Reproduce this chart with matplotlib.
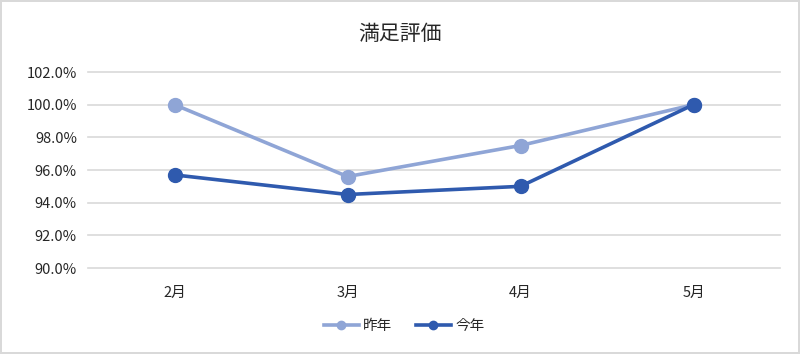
import matplotlib
matplotlib.use("Agg")
import matplotlib.pyplot as plt
from matplotlib.ticker import FuncFormatter

plt.rcParams['font.family'] = ['Noto Sans CJK JP', 'DejaVu Sans']

# data
months = ['2月', '3月', '4月', '5月']
last_year = [100.0, 95.6, 97.5, 100.0]
this_year = [95.7, 94.5, 95.0, 100.0]
y_ticks = [90, 92, 94, 96, 98, 100, 102]

fig = plt.figure(figsize=(8, 3.54), dpi=100)
fig.patch.set_edgecolor('#D9D9D9')
fig.patch.set_linewidth(1.5)

ax = fig.add_axes([0.11, 0.2429, 0.865, 0.5537])
x = range(len(months))
ax.plot(x, last_year, color='#8FA5D6', lw=2.6, marker='o', ms=10, label='昨年', zorder=3)
ax.plot(x, this_year, color='#2F5AAE', lw=2.6, marker='o', ms=10, label='今年', zorder=4)

ax.set_xlim(-0.5, len(months) - 0.5)
ax.set_ylim(90, 102)
ax.set_yticks(y_ticks)
ax.yaxis.set_major_formatter(FuncFormatter(lambda v, p: f'{v:.1f}%'))
ax.set_xticks(list(x))
ax.set_xticklabels(months)
ax.grid(axis='y', color='#D9D9D9', lw=1.2)
for g in ax.yaxis.get_gridlines():
    g.set_clip_on(False)
ax.set_axisbelow(True)
for s in ax.spines.values():
    s.set_visible(False)
ax.tick_params(length=0, labelsize=10.5, colors='#262626')
ax.tick_params(axis='x', pad=13)
ax.tick_params(axis='y', pad=8)

fig.text(0.5, 0.905, '満足評価', ha='center', va='center', fontsize=15, color='#262626')
fig.legend(loc='center', bbox_to_anchor=(0.505, 0.08), ncol=2, frameon=False,
           fontsize=10.5, handlelength=2.4, columnspacing=1.6, handletextpad=0.3,
           markerscale=0.6, labelcolor='#262626')

fig.savefig('out.png', dpi=100, edgecolor=fig.get_edgecolor())
